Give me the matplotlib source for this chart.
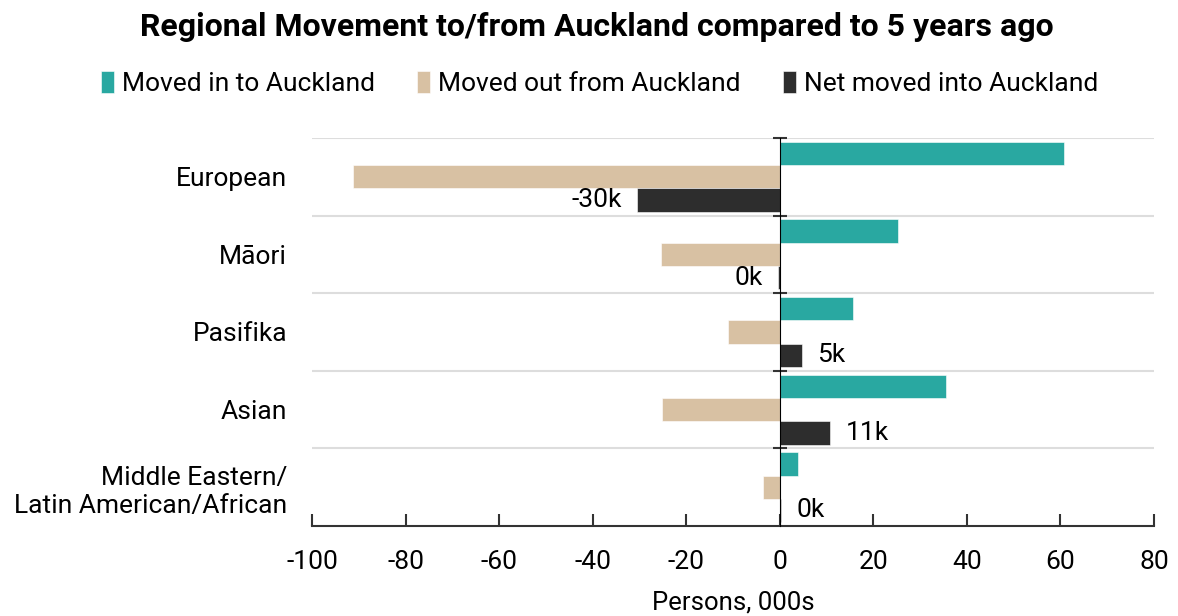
import matplotlib.pyplot as plt
import numpy as np

plt.rcParams['font.family'] = ['Roboto', 'DejaVu Sans']
plt.rcParams['axes.unicode_minus'] = False

# data (persons, 000s)
groups = ["European", "Māori", "Pasifika", "Asian",
          "Middle Eastern/\nLatin American/African"]
moved_in = [60.8, 25.2, 15.7, 35.6, 3.9]
moved_out = [-91.3, -25.4, -11.0, -25.2, -3.6]
net_moved = [-30.5, -0.3, 4.7, 10.8, 0.3]

c_in = "#29a8a1"
c_out = "#d8c1a3"
c_net = "#2d2d2d"
axis_col = "#333333"

fig = plt.figure(figsize=(11.78, 6.16), dpi=100)
ax = fig.add_axes([0.2649, 0.1461, 0.9796 - 0.2649, 0.776 - 0.1461])

y = np.arange(len(groups))
h = 0.3
ax.barh(y - h, moved_in, height=h, color=c_in, edgecolor="white", linewidth=0.4,
        label="Moved in to Auckland", zorder=3)
ax.barh(y, moved_out, height=h, color=c_out, edgecolor="white", linewidth=0.4,
        label="Moved out from Auckland", zorder=3)
net_bars = ax.barh(y + h, net_moved, height=h, color=c_net, edgecolor="white",
                   linewidth=0.4, label="Net moved into Auckland", zorder=3)
ax.bar_label(net_bars, labels=[f"{round(v):d}k" for v in net_moved],
             padding=11, fontsize=19, color="black")

ax.set_xlim(-100, 80)
ax.set_ylim(len(groups) - 0.5, -0.5)
ax.set_xticks(np.arange(-100, 81, 20))
ax.set_xlabel("Persons, 000s", fontsize=18.5, labelpad=12)

ax.set_yticks(y)
ax.set_yticklabels(groups, fontsize=19)
ax.tick_params(axis="y", length=0, pad=18)
ax.tick_params(axis="x", direction="in", length=9, width=1.5, color=axis_col,
               labelsize=19, pad=17)

bounds = np.arange(-0.5, len(groups) - 0.5, 1.0)
ax.set_yticks(bounds, minor=True)
ax.tick_params(axis="y", which="minor", length=0)
ax.grid(axis="y", which="minor", color="#dddddd", linewidth=1.5, zorder=0)

for s in ["top", "right", "left"]:
    ax.spines[s].set_visible(False)
ax.spines["bottom"].set_color(axis_col)
ax.spines["bottom"].set_linewidth(1.5)

# zero axis with crossing ticks
x0 = (0 - ax.get_xlim()[0]) / (ax.get_xlim()[1] - ax.get_xlim()[0])
sec = ax.secondary_yaxis(x0)
sec.set_yticks(bounds)
sec.set_yticklabels([])
sec.tick_params(direction="inout", length=10, width=1.5, color=axis_col)
sec.spines["left"].set_color(axis_col)
sec.spines["left"].set_linewidth(1.5)
sec.set_zorder(4)

fig.suptitle("Regional Movement to/from Auckland compared to 5 years ago",
             fontsize=23, fontweight="bold", x=0.507, y=0.98)
fig.legend(loc="center", bbox_to_anchor=(0.509, 0.865), ncol=3, frameon=False,
           fontsize=19, handlelength=0.5, handleheight=0.9, handletextpad=0.3,
           columnspacing=1.6)

fig.savefig("out.png", dpi=100)
